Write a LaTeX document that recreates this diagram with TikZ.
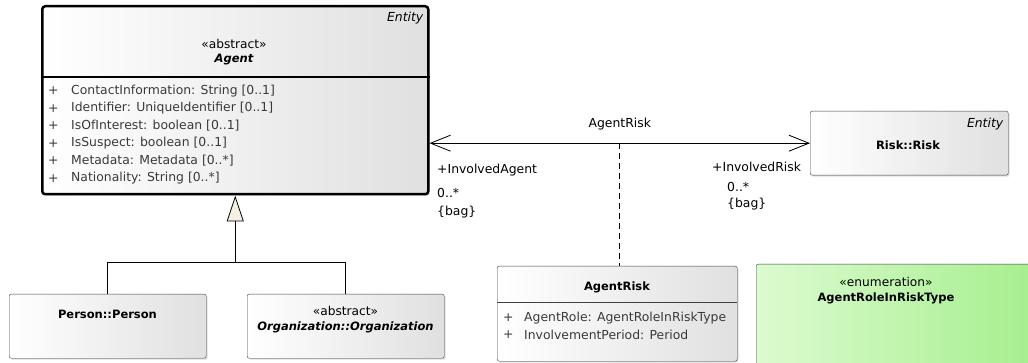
\documentclass[tikz,border=0pt]{standalone}
\usepackage{fontspec}
\setmainfont{DejaVu Sans}
\usetikzlibrary{positioning, arrows.meta, shadows}

\definecolor{boxgray}{HTML}{E0E0E0}
\definecolor{enumleft}{HTML}{DCFBD0}
\definecolor{enumright}{HTML}{A4EE8C}
\definecolor{gencream}{HTML}{F6EFE3}
\definecolor{attrtext}{HTML}{3A3A3A}

\begin{document}
\begin{tikzpicture}[
    x=1pt, y=-1pt,
    every node/.style={font=\fontsize{12.4}{14}\selectfont, inner sep=0pt},
    umlclass/.style={draw=black!75, rounded corners=2pt, anchor=north west,
                     left color=white, right color=boxgray,
                     drop shadow={opacity=0.25, shadow xshift=1.5pt,
                                  shadow yshift=-1.5pt}},
    abstractclass/.style={umlclass, draw=black, line width=2.5pt,
                          rounded corners=3pt},
    enumclass/.style={umlclass, left color=enumleft, right color=enumright},
    attr/.style={anchor=west, text=attrtext},
    title/.style={font=\fontsize{11.5}{14}\selectfont\bfseries},
    role/.style={font=\fontsize{12.4}{14}\selectfont},
    stereo/.style={font=\fontsize{12.2}{14}\selectfont},
    assoc/.style={{Straight Barb[length=20pt, width=16pt]}-{Straight Barb[length=20pt, width=16pt]},
                  line width=0.8pt},
    gen/.style={-{Triangle[length=26pt, width=17pt, fill=gencream]},
                line width=0.8pt},
]
\useasboundingbox (0,0) rectangle (1028,363);
\clip (0,0) rectangle (1028,363);

% Agent (abstract)
\node[abstractclass, minimum width=386pt, minimum height=188pt] (agent) at (41,5) {};
\draw[line width=2.5pt] ([yshift=-72pt]agent.north west) -- ([yshift=-72pt]agent.north east);
\node[anchor=east] (agententity) at ([xshift=-6pt, yshift=-13pt]agent.north east) {\itshape Entity};
\node[stereo] (agentstereo) at (234,44) {«abstract»};
\node[title] (agentname) at (234,60) {\itshape Agent};
\foreach \t [count=\i] in {{ContactInformation: String [0..1]},
                           {Identifier: UniqueIdentifier [0..1]},
                           {IsOfInterest: boolean [0..1]},
                           {IsSuspect: boolean [0..1]},
                           {Metadata: Metadata [0..*]},
                           {Nationality: String [0..*]}} {
  \node[attr] (agentplus\i) at (48, 73.5+17.5*\i) {+};
  \node[attr] (agentattr\i) at (71, 73.5+17.5*\i) {\t};
}

% Risk
\node[umlclass, minimum width=198pt, minimum height=64pt] (risk) at (810,111) {};
\node[anchor=east] (riskentity) at ([xshift=-5pt, yshift=-13pt]risk.north east) {\itshape Entity};
\node[title] (riskname) at (908,145) {Risk::Risk};

% Subclasses
\node[umlclass, minimum width=197pt, minimum height=64pt] (person) at (9,294) {};
\node[title] (personname) at (107.5,314) {Person::Person};
\node[umlclass, minimum width=197pt, minimum height=64pt] (org) at (247,294) {};
\node[stereo] (orgstereo) at (345.5,311) {«abstract»};
\node[title] (orgname) at (345.5,327) {\itshape Organization::Organization};

% Association class
\node[umlclass, minimum width=240pt, minimum height=95pt] (agentrisk) at (497,266) {};
\draw[black!75] ([yshift=-36pt]agentrisk.north west) -- ([yshift=-36pt]agentrisk.north east);
\node[title] (agentriskname) at (617,287) {AgentRisk};
\node[attr] (arplus1) at (503,318) {+};
\node[attr] (arattr1) at (524,318) {AgentRole: AgentRoleInRiskType};
\node[attr] (arplus2) at (503,335) {+};
\node[attr] (arattr2) at (524,335) {InvolvementPeriod: Period};

% Enumeration
\node[enumclass, minimum width=290pt, minimum height=110pt] (roletype) at (756,264) {};
\node[stereo] (rolestereo) at (886,282) {«enumeration»};
\node[title] (rolename) at (886,298) {AgentRoleInRiskType};

% Generalization
\coordinate (genjoin) at (agent.south |- 0,262);
\draw[gen] (genjoin) -- (agent.south);
\draw[line width=0.8pt] (person.north) |- (genjoin);
\draw[line width=0.8pt] (org.north) |- (genjoin);

% Association
\draw[assoc] (agent.east |- risk.west) -- coordinate[pos=0.5] (assocmid) (risk.west);
\draw[dashed, dash pattern=on 6pt off 4pt, line width=0.8pt] (assocmid) -- (assocmid |- agentrisk.north);
\node[role] (assocname) at ([yshift=19pt]assocmid) {AgentRisk};
\node[role, anchor=west] (agentrole) at (437,170) {+InvolvedAgent};
\node[role, anchor=west] (agentmult) at (437,193) {0..*};
\node[role, anchor=west] (agentbag) at (437,212) {\{bag\}};
\node[role, anchor=west] (riskrole) at (712,167) {+InvolvedRisk};
\node[role, anchor=west] (riskmult) at (727,187) {0..*};
\node[role, anchor=west] (riskbag) at (727,204) {\{bag\}};

\end{tikzpicture}
\end{document}
